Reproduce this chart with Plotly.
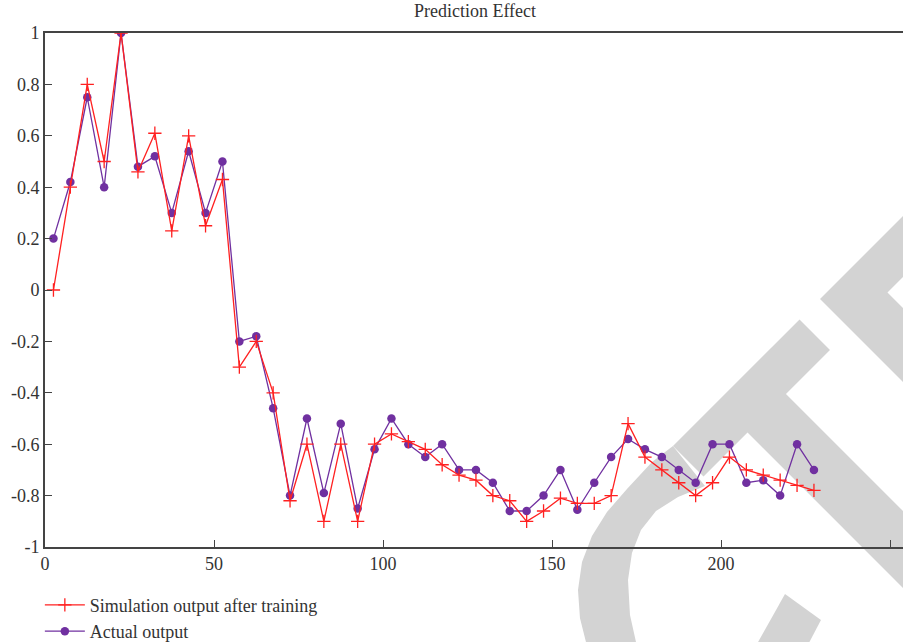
import plotly.graph_objects as go

# ---- data ----
x_values = [2.5, 7.5, 12.5, 17.5, 22.5, 27.5, 32.5, 37.5, 42.5, 47.5,
            52.5, 57.5, 62.5, 67.5, 72.5, 77.5, 82.5, 87.5, 92.5, 97.5,
            102.5, 107.5, 112.5, 117.5, 122.5, 127.5, 132.5, 137.5, 142.5, 147.5,
            152.5, 157.5, 162.5, 167.5, 172.5, 177.5, 182.5, 187.5, 192.5, 197.5,
            202.5, 207.5, 212.5, 217.5, 222.5, 227.5]

simulation_output = [0.00, 0.40, 0.80, 0.50, 1.00, 0.46, 0.61, 0.23, 0.60, 0.25,
                     0.43, -0.30, -0.20, -0.40, -0.82, -0.60, -0.90, -0.60, -0.90, -0.60,
                     -0.56, -0.59, -0.62, -0.68, -0.72, -0.74, -0.80, -0.82, -0.90, -0.86,
                     -0.81, -0.83, -0.83, -0.80, -0.52, -0.65, -0.70, -0.75, -0.80, -0.75,
                     -0.65, -0.70, -0.72, -0.74, -0.76, -0.78]

actual_output = [0.20, 0.42, 0.75, 0.40, 1.00, 0.48, 0.52, 0.30, 0.54, 0.30,
                 0.50, -0.20, -0.18, -0.46, -0.80, -0.50, -0.79, -0.52, -0.85, -0.62,
                 -0.50, -0.60, -0.65, -0.60, -0.70, -0.70, -0.75, -0.86, -0.86, -0.80,
                 -0.70, -0.855, -0.75, -0.65, -0.58, -0.62, -0.65, -0.70, -0.75, -0.60,
                 -0.60, -0.75, -0.74, -0.80, -0.60, -0.70]

y_tick_values = [-1, -0.8, -0.6, -0.4, -0.2, 0, 0.2, 0.4, 0.6, 0.8, 1]
y_tick_labels = ["-1", "-0.8", "-0.6", "-0.4", "-0.2", "0", "0.2", "0.4", "0.6", "0.8", "1"]
x_tick_values = [0, 50, 100, 150, 200, 250]
x_tick_labels = ["0", "50", "100", "150", "200", "250"]

# ---- layout geometry ----
W, H = 903, 642
ML, MR, MT, MB = 45, 0, 33, 95
PW, PH = W - ML - MR, H - MT - MB
FONT = "Liberation Serif, Times New Roman, serif"
TXT = "#333333"
AX = "#444444"

fig = go.Figure()
fig.add_trace(go.Scatter(
    x=x_values, y=actual_output, name="Actual output", mode="lines+markers",
    line=dict(color="#7030a0", width=1.3),
    marker=dict(symbol="circle", size=8.5, color="#7030a0"),
))
fig.add_trace(go.Scatter(
    x=x_values, y=simulation_output, name="Simulation output after training",
    mode="lines+markers",
    line=dict(color="#ff2020", width=1.3),
    marker=dict(symbol="cross-thin", size=9.5, line=dict(color="#ff2020", width=1.3)),
))


# ---- watermark (decorative), given in page pixels, converted to paper units ----
def to_paper(pts):
    out = []
    for i, (px, py) in enumerate(pts):
        xp = (px - ML) / PW
        yp = 1 - (py - MT) / PH
        out.append(("M" if i == 0 else "L") + f"{xp:.4f},{yp:.4f}")
    return " ".join(out) + " Z"


wm_T = [(673, 446), (799.5, 319.5), (830, 350), (786, 394), (1000, 608), (1000, 685),
        (747.5, 432.5), (703.5, 476.5)]
wm_E = [(820, 299), (1000, 119), (1000, 180), (887.5, 292.5), (1000, 405), (1000, 479)]
wm_C = [(673, 446), (652, 462), (627, 489), (607, 512), (592, 536), (582, 562), (578, 590),
        (580, 618), (586, 642), (592, 665), (645, 665), (636, 642), (630, 615), (628, 580),
        (632, 553), (641, 530), (656, 511), (678, 497), (705, 486)]
wm_C2 = [(785, 594), (821, 620), (800, 660), (748, 660)]
for pts in (wm_T, wm_E, wm_C, wm_C2):
    fig.add_shape(type="path", path=to_paper(pts), xref="paper", yref="paper",
                  fillcolor="#d3d3d3", line=dict(width=0), layer="below")

fig.update_layout(
    width=W, height=H,
    margin=dict(l=ML, r=MR, t=MT, b=MB, autoexpand=False),
    paper_bgcolor="white", plot_bgcolor="rgba(0,0,0,0)",
    font=dict(family=FONT, size=18, color=TXT),
    title=dict(text="Prediction Effect", x=475 / W, xanchor="center",
               y=1 - 11 / H, yanchor="middle", xref="container", yref="container",
               font=dict(family=FONT, size=18, color=TXT)),
    showlegend=True,
    legend=dict(x=-0.006, y=-0.077, xanchor="left", yanchor="top",
                traceorder="reversed", bgcolor="rgba(0,0,0,0)",
                font=dict(family=FONT, size=18, color=TXT),
                tracegroupgap=0, itemwidth=40),
    xaxis=dict(range=[0, PW / 3.38], tickvals=x_tick_values, ticktext=x_tick_labels,
               ticks="inside", ticklen=7, tickwidth=1.3, tickcolor=AX,
               showline=True, linecolor=AX, linewidth=1.6, mirror=True,
               showgrid=False, zeroline=False, automargin=False,
               tickfont=dict(family=FONT, size=18, color=TXT)),
    yaxis=dict(range=[-1, 1], tickvals=y_tick_values, ticktext=y_tick_labels,
               ticks="inside", ticklen=7, tickwidth=1.3, tickcolor=AX,
               showline=True, linecolor=AX, linewidth=1.8, mirror=False,
               showgrid=False, zeroline=False, automargin=False,
               tickfont=dict(family=FONT, size=18, color=TXT)),
)

# remove the page's default 8px body margin so the figure sits at the window origin
fig.write_html("out.html", config={"displayModeBar": False},
               post_script="document.body.style.margin='0';")
